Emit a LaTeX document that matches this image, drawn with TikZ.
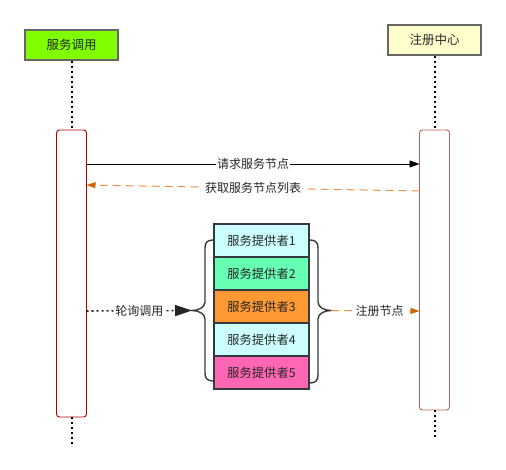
\documentclass[tikz,border=0pt]{standalone}
\usepackage{fontspec}
\setmainfont{Noto Sans CJK SC}
\usetikzlibrary{arrows.meta}
\definecolor{actgreen}{HTML}{80FF00}
\definecolor{actyellow}{HTML}{FFFFCC}
\definecolor{darkred}{HTML}{B20000}
\definecolor{lightred}{HTML}{C0605C}
\definecolor{pcyan}{HTML}{CCFFFF}
\definecolor{pmint}{HTML}{66FFB3}
\definecolor{porange}{HTML}{FF9933}
\definecolor{ppink}{HTML}{FF66B3}
\definecolor{pborder}{HTML}{36393D}
\definecolor{orline}{HTML}{E4934C}
\definecolor{orhead}{HTML}{CC6600}
\definecolor{txt}{HTML}{262626}
\begin{document}
\begin{tikzpicture}[x=1pt,y=-1pt,
  actor/.style={draw=black!60,line width=1.4pt,minimum width=93pt,minimum height=30pt,inner sep=0pt,font=\fontsize{12.5}{14}\selectfont,text=txt},
  activ/.style={draw,rounded corners=3pt,line width=0.9pt,minimum width=30pt,inner sep=0pt,fill=white},
  lifeline/.style={line width=2pt,dash pattern=on 2pt off 3pt,black},
  prov/.style={draw=pborder,line width=1.4pt,minimum width=95pt,minimum height=33pt,inner sep=0pt,font=\fontsize{12.3}{14}\selectfont,text=txt},
  lbl/.style={fill=white,inner sep=1pt,font=\fontsize{12}{13}\selectfont,text=txt},
  bracestyle/.style={draw=pborder,line width=1.4pt},
  orarrow/.style={orline,line width=1pt,dash pattern=on 8pt off 5pt,-{Triangle[length=9pt,width=6pt,color=orhead]}}
]
\useasboundingbox (0,0) rectangle (506,470);
% actors
\node[actor,fill=actgreen] (a1) at (71.5,45) {服务调用};
\node[actor,fill=actyellow] (a2) at (434.5,40) {注册中心};
% activation bars
\node[activ,draw=darkred,minimum height=287pt] (act1) at (71.5,273.5) {};
\node[activ,draw=lightred,minimum height=280pt] (act2) at (434.5,270) {};
% lifelines
\draw[lifeline] (a1.south) -- (act1.north);
\draw[lifeline] (a2.south) -- (act2.north);
\coordinate (e1) at (71.5,445);
\coordinate (e2) at (434.5,440);
\draw[lifeline] (act1.south) -- (e1);
\draw[lifeline] (act2.south) -- (e2);
% providers
\node[prov,fill=pcyan]   (p1) at (261.5,240.5) {服务提供者1};
\node[prov,fill=pmint]   (p2) at (261.5,273.5) {服务提供者2};
\node[prov,fill=porange] (p3) at (261.5,306.5) {服务提供者3};
\node[prov,fill=pcyan]   (p4) at (261.5,339.5) {服务提供者4};
\node[prov,fill=ppink]   (p5) at (261.5,372.5) {服务提供者5};
% braces
\coordinate (bl) at (192,310.5);
\coordinate (br) at (331,310.5);
\draw[bracestyle] (213,240) .. controls (207,240) and (205,243) .. (205,248) -- (205,302)
  .. controls (205,307) and (199,310.5) .. (bl)
  .. controls (199,310.5) and (205,314) .. (205,319) -- (205,373)
  .. controls (205,378) and (207,381) .. (213,381);
\draw[bracestyle] (310,240) .. controls (316,240) and (318,243) .. (318,248) -- (318,302)
  .. controls (318,307) and (324,310.5) .. (br)
  .. controls (324,310.5) and (318,314) .. (318,319) -- (318,375)
  .. controls (318,380) and (316,383) .. (310,383);
% messages
\coordinate (m1s) at (86.5,164);
\coordinate (m1e) at (419.5,164);
\draw[black,line width=0.8pt,-{Triangle[length=10pt,width=7pt]}] (m1s) -- node[lbl]{请求服务节点} (m1e);
\coordinate (m2s) at (419.5,191);
\coordinate (m2e) at (86.5,185);
\draw[orarrow] (m2s) -- node[lbl,pos=0.5]{获取服务节点列表} (m2e);
\coordinate (m3s) at (86.5,311);
\draw[txt,line width=1.6pt,dash pattern=on 2pt off 3pt,-{Triangle[length=17pt,width=11pt]}] (m3s) -- node[lbl]{轮询调用} (bl);
\coordinate (m4e) at (419.5,311);
\draw[orarrow] (br) -- node[lbl,pos=0.55]{注册节点} (m4e);
\end{tikzpicture}
\end{document}
